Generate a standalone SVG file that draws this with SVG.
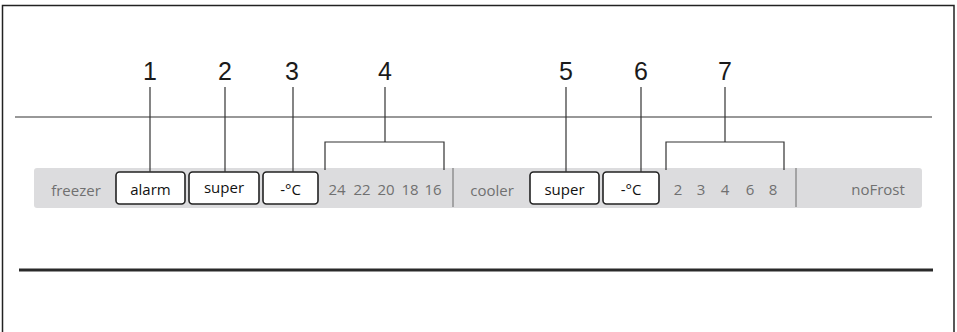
<svg xmlns="http://www.w3.org/2000/svg" width="957" height="332" viewBox="0 0 957 332">
<style>
.num{font-family:"Liberation Sans",Arial,sans-serif;font-size:25px;fill:#1a1a1a;text-anchor:middle}
.lbl{font-family:"Open Sans","Noto Sans",sans-serif;font-size:15px;fill:#111;text-anchor:middle}
.gry{font-family:"Open Sans","Noto Sans",sans-serif;font-size:15px;fill:#707070;text-anchor:middle}
.btn{fill:#fff;stroke:#222;stroke-width:1.6}
.ln{stroke:#333;stroke-width:1.2;fill:none}
</style>
<rect x="0" y="0" width="957" height="332" fill="#fff"/>
<path d="M2.5 340 V5.5 H954 V340" fill="none" stroke="#222" stroke-width="1.5"/>
<line x1="15" y1="117" x2="932" y2="117" stroke="#333" stroke-width="1.2"/>
<line x1="19" y1="270" x2="933" y2="270" stroke="#2a2a2a" stroke-width="3"/>
<g id="panel">
<rect x="34" y="168" width="888" height="40" rx="3" fill="#dcdcde"/>
<line x1="453" y1="168" x2="453" y2="207" stroke="#909090" stroke-width="1.5"/>
<line x1="796" y1="168" x2="796" y2="207" stroke="#909090" stroke-width="1.5"/>
<text class="gry" x="76" y="196">freezer</text>
<text class="gry" y="195"><tspan x="337">24</tspan><tspan x="362">22</tspan><tspan x="386">20</tspan><tspan x="410">18</tspan><tspan x="433">16</tspan></text>
<text class="gry" x="492" y="196">cooler</text>
<text class="gry" y="195"><tspan x="678">2</tspan><tspan x="701">3</tspan><tspan x="725">4</tspan><tspan x="750">6</tspan><tspan x="773">8</tspan></text>
<text class="gry" x="878" y="195">noFrost</text>
</g>
<g id="btn-alarm"><rect class="btn" x="116" y="172" width="69" height="32" rx="3.5"/><text class="lbl" x="150.5" y="195">alarm</text></g>
<g id="btn-super1"><rect class="btn" x="189" y="172" width="70" height="32" rx="3.5"/><text class="lbl" x="224" y="193">super</text></g>
<g id="btn-c1"><rect class="btn" x="263" y="172" width="55" height="32" rx="3.5"/><text class="lbl" x="290.5" y="195">-°C</text></g>
<g id="btn-super2"><rect class="btn" x="530" y="172" width="69" height="32" rx="3.5"/><text class="lbl" x="564.5" y="195">super</text></g>
<g id="btn-c2"><rect class="btn" x="603" y="172" width="56" height="32" rx="3.5"/><text class="lbl" x="631" y="195">-°C</text></g>
<g id="labels">
<text class="num" x="150" y="80">1</text>
<text class="num" x="225" y="80">2</text>
<text class="num" x="292" y="80">3</text>
<text class="num" x="385" y="80">4</text>
<text class="num" x="566" y="80">5</text>
<text class="num" x="641" y="80">6</text>
<text class="num" x="725" y="80">7</text>
</g>
<g id="connectors" class="ln">
<line x1="150" y1="87" x2="150" y2="172"/>
<line x1="225" y1="87" x2="225" y2="172"/>
<line x1="293" y1="87" x2="293" y2="172"/>
<line x1="385" y1="87" x2="385" y2="142"/>
<path d="M325 170 V142 H444 V170"/>
<line x1="566" y1="87" x2="566" y2="172"/>
<line x1="641" y1="87" x2="641" y2="172"/>
<line x1="725" y1="87" x2="725" y2="142"/>
<path d="M666 170 V142 H784 V170"/>
</g>
</svg>
